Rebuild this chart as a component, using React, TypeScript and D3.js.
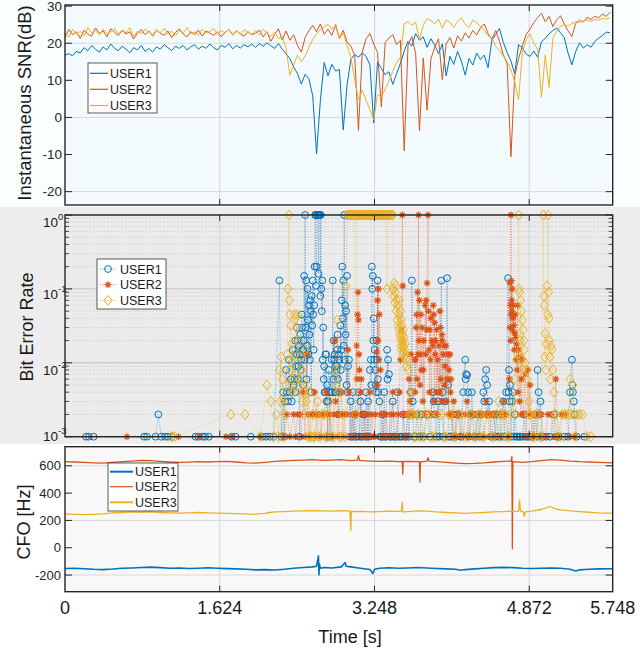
import React from "react";
import * as d3 from "d3";

// time axis
const TMAX = 5.748;
const SNR_DT = 0.04; // SNR sampled every 40 ms
const xTicks = [0, 1.624, 3.248, 4.872, 5.748];
const xGrid = [1.624, 3.248, 4.872];
const users = ["USER1", "USER2", "USER3"];
const colors = ["#0072BD", "#D95319", "#EDB120"];

const snrTicks = [-20, -10, 0, 10, 20, 30];
const snrGrid = [-20, 0, 20];
const berDecades = [1e-3, 1e-2, 1e-1, 1];
const berExp = ["-3", "-2", "-1", "0"];
const cfoTicks = [-200, 0, 200, 400, 600];
const cfoGrid = [-200, 200, 600];

// instantaneous SNR (dB)
const snr1 = [
  16.8, 17.2, 16.6, 17.8, 17.4, 18.8, 18.0, 19.4, 18.4, 17.6,
  19.0, 18.2, 19.8, 18.6, 18.0, 19.2, 18.4, 17.4, 18.8, 18.2,
  19.4, 17.8, 18.6, 17.6, 19.0, 18.4, 19.6, 18.8, 18.0, 19.2,
  18.6, 19.4, 18.2, 19.0, 19.6, 18.4, 19.2, 18.6, 19.8, 18.8,
  18.2, 19.4, 18.9, 19.9, 18.5, 19.4, 18.7, 19.6, 19.0, 19.8,
  18.9, 19.9, 19.2, 20.1, 19.3, 18.6, 19.9, 18.4, 17.2, 15.8,
  13.6, 11.8, 9.0, 11.6, 10.4, 5.8, -9.8, 4.5, 14.8, 11.2,
  14.3, 12.5, 12.9, -3.4, 8.7, 15.6, 17.0, 16.2, 17.4, 16.4,
  14.2, -1.5, 15.0, 13.2, 11.5, 12.3, 8.9, 11.8, 14.6, 17.9,
  20.5, 19.2, 22.6, 20.8, 21.7, 18.9, 21.2, 19.5, 17.2, 19.8,
  11.2, 16.5, 14.3, 17.8, 15.2, 11.4, 15.9, 14.1, 17.3, 15.6,
  16.8, 13.4, 20.8, 22.3, 24.0, 20.2, 17.5, 15.2, 11.8, 19.6,
  18.8, 17.1, 16.4, 17.9, 16.2, 20.4, 21.3, 22.5, 23.4, 24.1,
  22.8, 21.5, 17.3, 14.2, 17.8, 20.1, 18.7, 19.6, 18.9, 20.5,
  21.3, 22.1, 23.0, 22.8,
];
const snr2 = [
  21.5, 23.7, 22.3, 23.1, 21.3, 23.5, 22.5, 21.9, 24.1, 22.7,
  23.3, 21.7, 23.9, 22.9, 22.1, 23.5, 22.5, 23.1, 21.1, 22.7,
  23.7, 22.3, 23.3, 21.9, 23.5, 22.7, 22.1, 23.3, 21.5, 22.9,
  23.9, 22.5, 21.7, 23.1, 22.3, 23.5, 21.9, 23.3, 22.7, 22.1,
  23.1, 21.7, 22.9, 23.7, 22.3, 23.3, 22.5, 21.9, 23.1, 22.3,
  22.7, 23.5, 21.7, 23.1, 20.5, 22.3, 23.9, 20.9, 23.3, 20.8,
  22.3, 19.4, 17.6, 21.5, 23.4, 24.8, 23.1, 25.2, 22.4, 23.8,
  22.1, 25.0, 21.3, 23.5, 20.4, 19.2, 16.8, -3.5, 17.6, 21.2,
  22.6, 19.8, 17.5, 2.8, 20.2, 21.4, 22.3, 19.6, 20.8, -9.0,
  19.5, 21.8, 17.2, -3.6, 16.0, 2.0, 15.8, 18.9, 21.2, 10.2,
  19.8, 21.5, 18.7, 22.0, 20.6, 22.8, 21.4, 23.5, 22.2, 24.1,
  25.2, 22.6, 21.0, 23.4, 20.5, 16.9, 14.5, -10.6, 11.2, 15.8,
  19.3, 22.4, 23.8, 25.6, 26.9, 28.1, 25.8, 27.2, 24.5, 26.3,
  27.4, 25.1, 23.3, 21.8, 25.4, 26.2, 25.7, 27.0, 26.4, 27.3,
  26.8, 27.9, 27.2, 28.4,
];
const snr3 = [
  22.6, 21.6, 23.8, 22.4, 23.2, 22.0, 24.2, 22.8, 23.4, 22.2,
  23.8, 22.6, 23.0, 24.0, 22.4, 23.6, 22.8, 24.2, 21.8, 23.2,
  22.6, 23.8, 23.0, 22.2, 23.6, 22.8, 24.0, 22.4, 23.2, 22.0,
  23.4, 22.8, 24.2, 22.6, 23.0, 22.2, 23.8, 22.8, 23.2, 24.0,
  22.4, 23.4, 22.8, 23.8, 22.2, 23.2, 22.6, 23.6, 23.0, 22.4,
  23.4, 22.2, 23.8, 22.8, 21.8, 23.0, 21.2, 21.8, 18.6, 11.4,
  14.2, 16.8, 15.0, 16.6, 18.9, 21.0, 22.5, 23.6, 24.4, 25.1,
  23.8, 24.6, 21.2, 22.8, 19.4, 16.2, 10.2, 4.7, 7.4, 4.6,
  2.1, -0.6, 6.2, 5.4, 7.6, 9.8, 12.4, 14.8, 16.2, 25.3,
  25.8, 24.9, 25.6, 21.0, 24.8, 26.7, 26.1, 25.2, 26.5, 24.0,
  26.3, 25.6, 24.2, 25.9, 26.8, 25.1, 24.3, 26.2, 25.5, 24.6,
  23.4, 22.0, 21.5, 19.2, 18.0, 16.5, 15.1, 12.8, 9.6, 4.7,
  17.6, 21.0, 22.5, 20.1, 18.3, 5.4, 16.8, 8.1, 21.4, 23.2,
  24.5, 25.1, 24.6, 25.3, 25.8, 25.6, 26.0, 26.3, 25.9, 26.4,
  26.2, 26.7, 26.5, 26.9,
];

// bit error rate: [time s, BER]
const ber1 = [
  [0.22, .001], [0.25, .001], [0.30, .001], [0.83, .001], [0.86, .001], [0.95, .001], [0.98, .002],
  [1.01, .001], [1.05, .001], [1.08, .001], [1.12, .001], [1.37, .001], [1.40, .001], [1.44, .001],
  [1.47, .001], [1.51, .001], [1.75, .001], [1.79, .001], [1.95, .001], [2.07, .001], [2.11, .001],
  [2.15, .001], [2.19, .001], [2.25, .13], [2.27, .001], [2.29, .004], [2.30, .001], [2.31, .003],
  [2.32, .008], [2.33, .004], [2.34, .003], [2.35, .011], [2.36, .004], [2.37, .006], [2.38, .003],
  [2.39, .015], [2.40, .005], [2.41, .006], [2.415, .02], [2.42, .004], [2.425, .009], [2.43, .013],
  [2.435, .03], [2.44, .02], [2.445, .006], [2.45, .009], [2.455, .017], [2.46, .001], [2.465, .013],
  [2.47, .024], [2.475, .008], [2.48, .011], [2.485, .045], [2.49, .03], [2.495, .015], [2.50, .005],
  [2.505, .02], [2.51, .15], [2.515, .011], [2.52, 1], [2.525, .03], [2.53, .13], [2.535, .006],
  [2.54, .017], [2.545, .1], [2.55, .038], [2.555, .013], [2.56, .06], [2.565, .024], [2.57, .011],
  [2.575, .07], [2.58, .05], [2.585, .004], [2.59, .08], [2.595, .032], [2.60, .13], [2.605, .045],
  [2.61, .015], [2.615, .06], [2.62, .2], [2.625, 1], [2.63, 1], [2.635, .11], [2.64, .2], [2.645, 1],
  [2.65, 1], [2.655, 1], [2.66, .16], [2.665, 1], [2.67, 1], [2.675, 1], [2.68, .08], [2.685, 1],
  [2.69, .1], [2.695, .05], [2.70, .13], [2.705, .011], [2.71, .03], [2.715, .006], [2.72, .009],
  [2.725, .004], [2.73, .004], [2.735, .013], [2.74, .013], [2.745, .003], [2.75, .005], [2.755, .001],
  [2.76, .003], [2.77, .008], [2.775, .004], [2.78, .001], [2.79, .004], [2.80, .011], [2.805, .004],
  [2.81, .13], [2.815, .006], [2.82, .02], [2.825, .011], [2.83, .013], [2.835, .004], [2.84, .004],
  [2.845, .009], [2.85, .008], [2.855, .015], [2.86, .024], [2.865, .006], [2.87, .002], [2.875, .013],
  [2.88, .011], [2.885, .004], [2.89, .032], [2.895, .008], [2.90, .015], [2.905, .07], [2.91, .2],
  [2.915, .04], [2.92, .13], [2.925, .017], [2.93, 1], [2.935, .011], [2.94, .06], [2.945, .024],
  [2.95, .05], [2.955, .005], [2.96, .15], [2.965, .004], [2.97, .009], [2.98, .011], [2.99, .001],
  [3.00, .003], [3.01, .001], [3.02, .004], [3.03, .001], [3.04, .002], [3.05, .001], [3.06, .001],
  [3.08, .004], [3.09, .001], [3.10, .003], [3.11, .001], [3.12, .001], [3.13, .002], [3.14, .002],
  [3.15, .001], [3.16, .004], [3.17, .001], [3.18, .003], [3.19, .001], [3.20, .008], [3.21, .011],
  [3.215, .005], [3.22, .2], [3.225, .1], [3.23, .15], [3.235, .02], [3.24, .04], [3.245, .011],
  [3.25, .015], [3.255, .008], [3.26, .005], [3.265, .004], [3.27, .02], [3.275, .011], [3.28, .13],
  [3.285, .006], [3.29, .004], [3.30, .003], [3.31, .001], [3.32, .001], [3.33, .002], [3.34, .001],
  [3.35, .004], [3.36, .001], [3.37, .001], [3.38, .015], [3.385, .006], [3.39, .011], [3.40, .007],
  [3.41, .001], [3.42, .001], [3.44, .003], [3.45, .001], [3.46, .001], [3.48, .001], [3.49, .004],
  [3.50, .001], [3.52, .001], [3.54, .001], [3.55, .002], [3.57, .001], [3.58, .001], [3.60, .002],
  [3.61, .001], [3.63, .004], [3.64, .13], [3.65, .003], [3.66, .001], [3.68, .001], [3.69, .002],
  [3.72, .001], [3.74, .002], [3.76, .001], [3.80, .002], [3.83, .001], [3.86, .004], [3.87, .003],
  [3.88, .002], [3.90, .001], [3.92, .003], [3.93, .001], [3.95, .13], [3.96, .004], [3.97, .001],
  [3.99, .003], [4.01, .14], [4.02, .005], [4.03, .001], [4.05, .001], [4.06, .002], [4.08, .001],
  [4.09, .001], [4.11, .002], [4.13, .002], [4.15, .001], [4.16, .001], [4.18, .004], [4.20, .011],
  [4.205, .006], [4.21, .007], [4.22, .0068], [4.23, .004], [4.24, .001], [4.26, .002], [4.27, .004],
  [4.28, .002], [4.30, .001], [4.31, .001], [4.33, .002], [4.35, .001], [4.37, .002], [4.39, .004],
  [4.40, .003], [4.41, .006], [4.42, .008], [4.43, .005], [4.44, .002], [4.45, .003], [4.47, .001],
  [4.48, .001], [4.50, .002], [4.52, .001], [4.53, .002], [4.55, .001], [4.57, .001], [4.58, .002],
  [4.60, .003], [4.61, .001], [4.63, .004], [4.65, .14], [4.655, .004], [4.66, .008], [4.665, .003],
  [4.67, .005], [4.68, .001], [4.69, .003], [4.70, .004], [4.71, .001], [4.72, .002], [4.74, .001],
  [4.75, .001], [4.77, .001], [4.78, .001], [4.80, .001], [4.82, .002], [4.83, .001], [4.85, .001],
  [4.87, .001], [4.89, .001], [4.91, .001], [4.93, .002], [4.95, .001], [4.96, .008], [4.97, .004],
  [4.98, .002], [4.99, .003], [5.00, .001], [5.02, .001], [5.05, .001], [5.09, .001], [5.13, .002],
  [5.16, .001], [5.18, .001], [5.24, .001], [5.28, .001], [5.30, .004], [5.32, .011], [5.325, .005],
  [5.33, .004], [5.34, .003], [5.35, .002], [5.37, .001], [5.45, .001],
];
const ber2 = [
  [0.65, .001], [1.19, .001], [1.41, .001], [1.69, .001], [1.75, .001], [2.05, .001], [2.30, .001],
  [2.33, .002], [2.36, .001], [2.40, .002], [2.42, .001], [2.44, .002], [2.47, .002], [2.48, .001],
  [2.50, .004], [2.52, .001], [2.54, .013], [2.55, .002], [2.57, .001], [2.58, .002], [2.60, .002],
  [2.62, .004], [2.63, .002], [2.64, .001], [2.66, .002], [2.67, .002], [2.69, .001], [2.70, .002],
  [2.72, .002], [2.74, .004], [2.75, .002], [2.76, .001], [2.78, .002], [2.80, .001], [2.82, .002],
  [2.83, .02], [2.84, .003], [2.85, .002], [2.86, .001], [2.88, .002], [2.90, .004], [2.91, .002],
  [2.92, .001], [2.94, .002], [2.96, .002], [2.97, .015], [2.98, .004], [3.00, .001], [3.01, .001],
  [3.02, .002], [3.03, .001], [3.04, .001], [3.05, .002], [3.06, .017], [3.065, .006], [3.07, .045],
  [3.075, .09], [3.08, .038], [3.085, .013], [3.09, .008], [3.10, .004], [3.105, .002], [3.11, .006],
  [3.12, .001], [3.13, .001], [3.14, .002], [3.15, .001], [3.17, .001], [3.18, .002], [3.20, .004],
  [3.21, .001], [3.22, .002], [3.24, .001], [3.25, .001], [3.26, .002], [3.27, .014], [3.275, .005],
  [3.28, .07], [3.285, .02], [3.29, .1], [3.295, .011], [3.30, .045], [3.31, .008], [3.32, .002],
  [3.33, .001], [3.34, .001], [3.36, .002], [3.37, .002], [3.39, .001], [3.40, .001], [3.42, .002],
  [3.44, .004], [3.45, .002], [3.47, .001], [3.48, .001], [3.50, .002], [3.51, .004], [3.52, .011],
  [3.53, .028], [3.54, 1], [3.545, .11], [3.55, .002], [3.56, .001], [3.58, .001], [3.59, .002],
  [3.61, .006], [3.62, .003], [3.63, .013], [3.64, .002], [3.66, .002], [3.67, .011], [3.675, .004],
  [3.68, .011], [3.685, .03], [3.69, .045], [3.695, .006], [3.70, .09], [3.705, .013], [3.71, 1],
  [3.715, .02], [3.72, .07], [3.725, .005], [3.73, .013], [3.735, .045], [3.74, .008], [3.75, .03],
  [3.755, .003], [3.76, .008], [3.765, .02], [3.77, .002], [3.78, .06], [3.785, .013], [3.79, .07],
  [3.795, .028], [3.80, .12], [3.81, 1], [3.815, .05], [3.82, .015], [3.825, .004], [3.83, .028],
  [3.835, .011], [3.84, .04], [3.845, .002], [3.85, .02], [3.86, .017], [3.865, .06], [3.87, .045],
  [3.875, .003], [3.88, .035], [3.885, .013], [3.89, .02], [3.895, .004], [3.90, .028], [3.905, .002],
  [3.91, .011], [3.92, .004], [3.925, .017], [3.93, .004], [3.935, .05], [3.94, .03], [3.945, .006],
  [3.95, .003], [3.955, .024], [3.96, .02], [3.965, .003], [3.97, .013], [3.98, .017], [3.985, .005],
  [3.99, .009], [4.00, .017], [4.005, .003], [4.01, .006], [4.02, .013], [4.025, .002], [4.03, .008],
  [4.04, .013], [4.045, .004], [4.05, .006], [4.06, .002], [4.07, .001], [4.08, .003], [4.09, .002],
  [4.10, .001], [4.12, .002], [4.14, .002], [4.16, .001], [4.18, .001], [4.20, .002], [4.22, .003],
  [4.23, .001], [4.25, .001], [4.27, .002], [4.30, .002], [4.32, .001], [4.34, .001], [4.36, .002],
  [4.38, .002], [4.40, .001], [4.42, .003], [4.44, .002], [4.45, .001], [4.48, .002], [4.50, .002],
  [4.52, .001], [4.55, .001], [4.57, .002], [4.60, .003], [4.62, .002], [4.63, .002], [4.65, .001],
  [4.665, .006], [4.67, .12], [4.672, .03], [4.675, .06], [4.678, .02], [4.68, 1], [4.683, .045],
  [4.685, .13], [4.688, .07], [4.69, .05], [4.693, .1], [4.695, .028], [4.70, .04], [4.705, .06],
  [4.71, .032], [4.715, .015], [4.72, .025], [4.725, .045], [4.73, .022], [4.735, .011], [4.74, .018],
  [4.745, .008], [4.75, .06], [4.755, .004], [4.76, .015], [4.77, .003], [4.78, .012], [4.785, .002],
  [4.79, .006], [4.80, .011], [4.81, .002], [4.83, .007], [4.84, .001], [4.86, .008], [4.87, .002],
  [4.88, .005], [4.90, .001], [4.91, .002], [4.93, .001], [4.95, .001], [4.97, .002], [5.00, .002],
  [5.02, .001], [5.04, .001], [5.07, .002], [5.10, .002], [5.13, .001], [5.15, .006], [5.18, .001],
  [5.21, .002], [5.25, .002], [5.30, .001], [5.35, .001],
];
const ber3 = [
  [1.12, .001], [1.15, .001], [1.74, .002], [1.89, .002], [2.05, .001], [2.12, .005], [2.16, .003],
  [2.19, .001], [2.22, .002], [2.24, .001], [2.25, .008], [2.26, .003], [2.27, .012], [2.28, .006],
  [2.29, .001], [2.30, .003], [2.31, .002], [2.32, .005], [2.33, .013], [2.34, .1], [2.35, 1],
  [2.355, .07], [2.36, .045], [2.365, .008], [2.37, .032], [2.375, .004], [2.38, .018], [2.385, .006],
  [2.39, .012], [2.40, .004], [2.41, .045], [2.42, .04], [2.43, .03], [2.44, .045], [2.445, .005],
  [2.45, .02], [2.46, .006], [2.47, .012], [2.48, .008], [2.49, .003], [2.50, .004], [2.51, .002],
  [2.52, .015], [2.53, .003], [2.54, .005], [2.55, .001], [2.56, .004], [2.57, .001], [2.58, .001],
  [2.60, .002], [2.61, .001], [2.62, .001], [2.64, .002], [2.65, .003], [2.66, .001], [2.68, .001],
  [2.70, .002], [2.72, .002], [2.73, .001], [2.75, .001], [2.76, .002], [2.78, .003], [2.80, .001],
  [2.82, .001], [2.84, .008], [2.85, .005], [2.86, .038], [2.87, .004], [2.88, .001], [2.90, .001],
  [2.92, .002], [2.94, .001], [2.95, .11],
  [2.96, 1], [2.97, 1], [2.98, 1], [2.99, 1], [3.00, 1], [3.01, 1], [3.02, 1], [3.03, 1], [3.04, 1],
  [3.05, .002], [3.06, 1], [3.07, 1], [3.08, 1], [3.09, 1], [3.10, 1], [3.11, 1], [3.12, 1],
  [3.13, 1], [3.14, 1], [3.15, 1], [3.16, 1], [3.17, 1], [3.18, 1], [3.19, 1], [3.20, 1], [3.21, 1],
  [3.22, 1], [3.23, 1], [3.24, 1], [3.25, 1], [3.26, 1], [3.27, 1], [3.28, 1], [3.29, 1], [3.30, 1],
  [3.31, 1], [3.32, 1], [3.33, 1], [3.34, 1], [3.35, 1], [3.36, 1], [3.37, 1], [3.38, .1], [3.39, 1],
  [3.40, 1], [3.41, 1], [3.42, 1], [3.43, 1], [3.44, 1],
  [3.445, .1], [3.45, .08], [3.455, .12], [3.46, .065], [3.465, .09], [3.47, .11], [3.475, .05],
  [3.48, .07], [3.485, .038], [3.49, .06], [3.495, .032], [3.50, .045], [3.505, .028], [3.51, .07],
  [3.515, .024], [3.52, .05], [3.522, .02], [3.525, .017], [3.528, .022], [3.53, .038], [3.532, .015],
  [3.535, .032], [3.538, .018], [3.54, .024], [3.542, .013], [3.545, .02], [3.548, .016], [3.55, .028],
  [3.552, .014], [3.555, .017], [3.558, .012], [3.56, .022], [3.565, .015], [3.57, .018], [3.575, .013],
  [3.58, .011], [3.585, .009], [3.59, .012], [3.60, .008], [3.61, .002], [3.62, .004], [3.63, .002],
  [3.65, .002], [3.66, .001], [3.68, .001], [3.70, .002], [3.72, .002], [3.74, .001], [3.77, .001],
  [3.79, .002], [3.82, .002], [3.85, .001], [3.88, .001], [3.91, .002], [3.95, .002], [3.98, .001],
  [4.00, .001], [4.03, .002], [4.05, .002], [4.08, .001], [4.10, .001], [4.13, .002], [4.16, .002],
  [4.19, .001], [4.22, .001], [4.25, .002], [4.27, .002], [4.29, .001], [4.31, .001], [4.34, .002],
  [4.36, .002], [4.38, .001], [4.40, .001], [4.43, .002], [4.46, .002], [4.48, .001], [4.50, .001],
  [4.53, .002], [4.55, .003], [4.57, .002], [4.58, .001], [4.60, .002], [4.62, .002], [4.64, .001],
  [4.66, .001], [4.68, .002], [4.70, .003], [4.72, .006], [4.73, .002], [4.74, .011], [4.75, .013],
  [4.76, 1], [4.765, .1], [4.77, .09], [4.775, .02], [4.78, .07], [4.785, .011], [4.79, .05],
  [4.80, .038], [4.805, .008], [4.81, .028], [4.815, .02], [4.82, .015], [4.83, .01], [4.84, .008],
  [4.85, .006], [4.86, .002], [4.87, .003], [4.88, .002], [4.89, .002], [4.91, .001], [4.92, .001],
  [4.94, .002], [4.96, .002], [4.98, .001], [5.00, .001], [5.02, 1], [5.025, .08], [5.03, .06],
  [5.035, .012], [5.04, .025], [5.045, .008], [5.05, .018], [5.06, .11], [5.065, .045], [5.07, 1],
  [5.075, .09], [5.08, .04], [5.085, .02], [5.09, .012], [5.095, .006], [5.10, .017], [5.11, .015],
  [5.12, .008], [5.13, .004], [5.14, .002], [5.15, .002], [5.17, .001], [5.20, .001], [5.22, .002],
  [5.25, .002], [5.28, .002], [5.30, .006], [5.31, .002], [5.33, .005], [5.34, .002], [5.35, .001],
  [5.38, .002], [5.40, .002], [5.43, .002], [5.48, .001], [5.52, .001],
];

// carrier frequency offset: [time s, Hz]
const cfo1 = [
  [0, -152], [0.1, -150], [0.2, -154], [0.3, -158], [0.4, -160], [0.5, -156], [0.6, -150],
  [0.7, -148], [0.8, -145], [0.9, -142], [1.0, -146], [1.1, -150], [1.2, -148], [1.3, -152],
  [1.4, -150], [1.5, -147], [1.6, -150], [1.7, -153], [1.8, -155], [1.9, -158], [2.0, -162],
  [2.1, -160], [2.2, -163], [2.3, -158], [2.4, -150], [2.5, -145], [2.6, -140], [2.64, -135],
  [2.66, -60], [2.665, -200], [2.67, -120], [2.68, -150], [2.72, -145], [2.8, -148], [2.9, -140],
  [2.94, -108], [2.95, -135], [3.0, -140], [3.1, -150], [3.2, -160], [3.23, -188], [3.25, -158],
  [3.3, -150], [3.4, -147], [3.5, -150], [3.6, -148], [3.7, -145], [3.8, -148], [3.9, -152],
  [4.0, -155], [4.1, -158], [4.15, -165], [4.2, -160], [4.3, -155], [4.4, -150], [4.5, -146],
  [4.6, -144], [4.7, -146], [4.8, -150], [4.9, -152], [5.0, -150], [5.1, -148], [5.2, -150],
  [5.3, -158], [5.36, -170], [5.4, -162], [5.5, -158], [5.6, -155], [5.748, -154],
];
const cfo2 = [
  [0, 630], [0.1, 628], [0.2, 625], [0.3, 622], [0.4, 620], [0.5, 625], [0.6, 630], [0.7, 635],
  [0.8, 640], [0.9, 638], [1.0, 633], [1.1, 628], [1.2, 625], [1.3, 627], [1.4, 630], [1.5, 628],
  [1.6, 630], [1.7, 632], [1.8, 628], [1.9, 622], [2.0, 620], [2.1, 625], [2.2, 632], [2.3, 636],
  [2.4, 640], [2.5, 642], [2.6, 645], [2.7, 640], [2.8, 642], [2.9, 645], [3.0, 638], [3.07, 642],
  [3.08, 675], [3.09, 640], [3.2, 635], [3.3, 632], [3.4, 634], [3.5, 630], [3.54, 632],
  [3.545, 540], [3.55, 630], [3.6, 632], [3.7, 630], [3.72, 628], [3.725, 480], [3.73, 628],
  [3.8, 635], [3.81, 660], [3.82, 635], [3.9, 630], [4.0, 625], [4.1, 620], [4.2, 616], [4.3, 618],
  [4.4, 622], [4.5, 628], [4.6, 632], [4.68, 635], [4.69, 667], [4.695, -8], [4.70, 630],
  [4.8, 625], [4.9, 630], [5.0, 638], [5.1, 645], [5.2, 642], [5.3, 635], [5.4, 630], [5.5, 628],
  [5.6, 625], [5.748, 622],
];
const cfo3 = [
  [0, 248], [0.1, 245], [0.2, 243], [0.3, 245], [0.4, 248], [0.5, 255], [0.6, 258], [0.7, 262],
  [0.8, 260], [0.9, 262], [1.0, 258], [1.1, 255], [1.2, 253], [1.3, 255], [1.4, 258], [1.5, 256],
  [1.6, 254], [1.7, 252], [1.8, 250], [1.9, 248], [2.0, 245], [2.05, 250], [2.1, 252], [2.15, 258],
  [2.2, 262], [2.3, 265], [2.4, 268], [2.5, 270], [2.6, 272], [2.7, 270], [2.8, 268], [2.9, 272],
  [2.99, 270], [3.0, 126], [3.005, 265], [3.1, 266], [3.2, 262], [3.3, 265], [3.4, 268],
  [3.5, 266], [3.53, 268], [3.54, 333], [3.545, 262], [3.6, 265], [3.7, 270], [3.8, 268],
  [3.9, 262], [4.0, 258], [4.1, 255], [4.2, 252], [4.3, 255], [4.4, 258], [4.5, 262], [4.6, 265],
  [4.7, 268], [4.76, 265], [4.77, 351], [4.78, 270], [4.81, 262], [4.82, 229], [4.83, 262],
  [4.9, 268], [5.0, 280], [5.09, 302], [5.15, 285], [5.2, 278], [5.3, 270], [5.4, 265],
  [5.5, 260], [5.6, 255], [5.748, 252],
];

const FONT = "'Liberation Sans', Arial, Helvetica, sans-serif";
const L = 65;
const R = 612.7;
const P1 = { top: 5, bottom: 205 };
const P2 = { top: 215, bottom: 436.7 };
const P3 = { top: 446.7, bottom: 591.7 };
const berLabelDy = [4.5, 12, 10, 12];

const x = d3.scaleLinear().domain([0, TMAX]).range([L, R]);
const ySnr = d3.scaleLinear().domain([-23.6, 30.3]).range([P1.bottom, P1.top]);
const yBer = d3.scaleLog().domain([1e-3, 1]).range([P2.bottom, P2.top]);
const yCfo = d3.scaleLinear().domain([-322, 740]).range([P3.bottom, P3.top]);

const snrPath = (arr: number[]) =>
  d3.line<number>().x((_, i) => x(i * SNR_DT)).y(d => ySnr(d))(arr) || "";
const pairPath = (arr: number[][], y: (v: number) => number) =>
  d3.line<number[]>().x(d => x(d[0])).y(d => y(d[1]))(arr) || "";

function Marker({ kind, cx, cy, color }: { kind: number; cx: number; cy: number; color: string }) {
  if (kind === 0)
    return <circle cx={cx} cy={cy} r={3.4} fill="none" stroke={color} strokeWidth={1} />;
  if (kind === 1) {
    const r = 3.4, q = 2.4;
    return (
      <path
        transform={`translate(${cx},${cy})`}
        d={`M${-r},0H${r}M0,${-r}V${r}M${-q},${-q}L${q},${q}M${-q},${q}L${q},${-q}`}
        stroke={color}
        strokeWidth={1.2}
        fill="none"
      />
    );
  }
  return (
    <path
      transform={`translate(${cx},${cy})`}
      d="M0,-5L4,0L0,5L-4,0Z"
      fill="none"
      stroke={color}
      strokeWidth={1}
    />
  );
}

function Frame({ top, bottom, fill }: { top: number; bottom: number; fill: string }) {
  return (
    <g>
      <rect x={L} y={top} width={R - L} height={bottom - top} fill={fill} />
      {xGrid.map(t => (
        <line key={t} x1={x(t)} x2={x(t)} y1={top} y2={bottom} stroke="#d4d4d4" strokeWidth={1} />
      ))}
    </g>
  );
}

function Border({ top, bottom, yt }: { top: number; bottom: number; yt: number[] }) {
  return (
    <g stroke="#262626">
      {xGrid.map(t => (
        <g key={t}>
          <line x1={x(t)} x2={x(t)} y1={bottom} y2={bottom - 6} strokeWidth={1} />
          <line x1={x(t)} x2={x(t)} y1={top} y2={top + 6} strokeWidth={1} />
        </g>
      ))}
      {yt.map((py, i) => (
        <g key={i}>
          <line x1={L} x2={L + 7} y1={py} y2={py} strokeWidth={1} />
          <line x1={R - 7} x2={R} y1={py} y2={py} strokeWidth={1} />
        </g>
      ))}
      <rect x={L} y={top} width={R - L} height={bottom - top} fill="none" strokeWidth={1.4} />
    </g>
  );
}

function LineLegend({ x0, y0, w, h, rows, len, widths }: any) {
  return (
    <g fontFamily={FONT} fontSize={12.5}>
      <rect x={x0} y={y0} width={w} height={h} fill="#fff" stroke="#333" strokeWidth={0.8} />
      {users.map((u, i) => (
        <g key={u}>
          <line x1={x0 + 2} x2={x0 + 2 + len} y1={rows[i]} y2={rows[i]} stroke={colors[i]} strokeWidth={widths[i]} />
          <text x={x0 + 4 + len} y={rows[i] + 4.5} fill="#1a1a1a">{u}</text>
        </g>
      ))}
    </g>
  );
}

export default function App() {
  const berMinor: number[] = [];
  [1e-3, 1e-2, 1e-1].forEach(d => {
    for (let k = 2; k <= 9; k++) berMinor.push(k * d);
  });
  const bers = [ber1, ber2, ber3];
  const cfos = [cfo1, cfo2, cfo3];
  const snrs = [snr1, snr2, snr3];

  return (
    <svg width={640} height={649} style={{ position: "absolute", left: 0, top: 0, background: "#fff" }}>
      <defs>
        <clipPath id="c1"><rect x={L} y={P1.top} width={R - L} height={P1.bottom - P1.top} /></clipPath>
        <clipPath id="c3"><rect x={L} y={P3.top} width={R - L} height={P3.bottom - P3.top} /></clipPath>
      </defs>

      {/* panel 1: SNR */}
      <rect x={0} y={0} width={640} height={207} fill="#fbfeff" />
      <Frame top={P1.top} bottom={P1.bottom} fill="#f4fbfe" />
      {snrGrid.map(v => (
        <line key={v} x1={L} x2={R} y1={ySnr(v)} y2={ySnr(v)} stroke="#d8d8d8" strokeWidth={1} />
      ))}
      <g clipPath="url(#c1)">
        {snrs.map((s, i) => (
          <path key={i} d={snrPath(s)} fill="none" stroke={colors[i]} strokeWidth={1} strokeLinejoin="round" />
        ))}
      </g>
      <Border top={P1.top} bottom={P1.bottom} yt={snrTicks.map(v => ySnr(v))} />
      <g fontFamily={FONT} fontSize={13.5} fill="#262626" textAnchor="end">
        {snrTicks.map(v => (
          <text key={v} x={62} y={ySnr(v) + 4.8}>{v}</text>
        ))}
      </g>
      <text transform="translate(31,103) rotate(-90)" textAnchor="middle" fontFamily={FONT} fontSize={18.5} fill="#1a1a1a">
        Instantaneous SNR(dB)
      </text>
      <LineLegend x0={88} y0={63} w={69} h={50} rows={[73.3, 89.3, 105.5]} len={18} widths={[1.2, 1.2, 1.2]} />

      {/* panel 2: BER */}
      <rect x={0} y={207} width={640} height={237} fill="#ededed" />
      <Frame top={P2.top} bottom={P2.bottom} fill="#ebebeb" />
      {berMinor.map(v => (
        <line key={v} x1={L} x2={R} y1={yBer(v)} y2={yBer(v)} stroke="#cfcfcf" strokeWidth={0.8} strokeDasharray="2 1.5" />
      ))}
      {berDecades.map(v => (
        <line key={v} x1={L} x2={R} y1={yBer(v)} y2={yBer(v)} stroke="#cbcbcb" strokeWidth={1.4} />
      ))}
      {bers.map((b, i) => (
        <g key={i}>
          <path d={pairPath(b, yBer)} fill="none" stroke={colors[i]} strokeWidth={0.8} strokeDasharray="1 1.6" opacity={0.7} />
          {b.map((d, j) => (
            <Marker key={j} kind={i} cx={x(d[0])} cy={yBer(d[1])} color={colors[i]} />
          ))}
        </g>
      ))}
      <Border top={P2.top} bottom={P2.bottom} yt={berDecades.map(v => yBer(v))} />
      <g stroke="#262626" strokeWidth={0.8}>
        {berMinor.map(v => (
          <g key={v}>
            <line x1={L} x2={L + 4} y1={yBer(v)} y2={yBer(v)} />
            <line x1={R - 4} x2={R} y1={yBer(v)} y2={yBer(v)} />
          </g>
        ))}
      </g>
      <g fontFamily={FONT} fill="#1a1a1a">
        {berDecades.map((v, i) => (
          <text key={v} x={43} y={yBer(v) + berLabelDy[i]} fontSize={13.5}>
            10<tspan dy={-7} fontSize={9.5}>{berExp[i]}</tspan>
          </text>
        ))}
      </g>
      <text transform="translate(33,327) rotate(-90)" textAnchor="middle" fontFamily={FONT} fontSize={18} fill="#1a1a1a">
        Bit Error Rate
      </text>
      <g fontFamily={FONT} fontSize={12.5}>
        <rect x={97} y={259} width={69} height={50} fill="#fff" stroke="#333" strokeWidth={0.8} />
        {users.map((u, i) => {
          const ry = [269, 284.7, 300.5][i];
          return (
            <g key={u}>
              <line x1={100} x2={116} y1={ry} y2={ry} stroke={colors[i]} strokeWidth={0.8} strokeDasharray="1 1.6" />
              <Marker kind={i} cx={108} cy={ry} color={colors[i]} />
              <text x={120} y={ry + 4.5} fill="#1a1a1a">{u}</text>
            </g>
          );
        })}
      </g>

      {/* panel 3: CFO */}
      <Frame top={P3.top} bottom={P3.bottom} fill="#f8f8f8" />
      {cfoGrid.map(v => (
        <line key={v} x1={L} x2={R} y1={yCfo(v)} y2={yCfo(v)} stroke="#d8d8d8" strokeWidth={1} />
      ))}
      <g clipPath="url(#c3)">
        {cfos.map((c, i) => (
          <path key={i} d={pairPath(c, yCfo)} fill="none" stroke={colors[i]} strokeWidth={i === 0 ? 1.6 : 1.3} strokeLinejoin="round" />
        ))}
      </g>
      <Border top={P3.top} bottom={P3.bottom} yt={cfoTicks.map(v => yCfo(v))} />
      <g fontFamily={FONT} fontSize={13} fill="#262626" textAnchor="end">
        {cfoTicks.map(v => (
          <text key={v} x={61} y={yCfo(v) + 4.6}>{v}</text>
        ))}
      </g>
      <text transform="translate(30,522) rotate(-90)" textAnchor="middle" fontFamily={FONT} fontSize={18} fill="#1a1a1a">
        CFO [Hz]
      </text>
      <LineLegend x0={108} y0={463} w={70} h={48} rows={[471.7, 486.7, 502.3]} len={23} widths={[2, 1.2, 2]} />

      {/* shared time axis */}
      <g fontFamily={FONT} fontSize={18} fill="#1a1a1a" textAnchor="middle">
        {xTicks.map(t => (
          <text key={t} x={x(t)} y={614}>{t === 0 ? "0" : t.toFixed(3)}</text>
        ))}
        <text x={350} y={643}>Time [s]</text>
      </g>
    </svg>
  );
}
